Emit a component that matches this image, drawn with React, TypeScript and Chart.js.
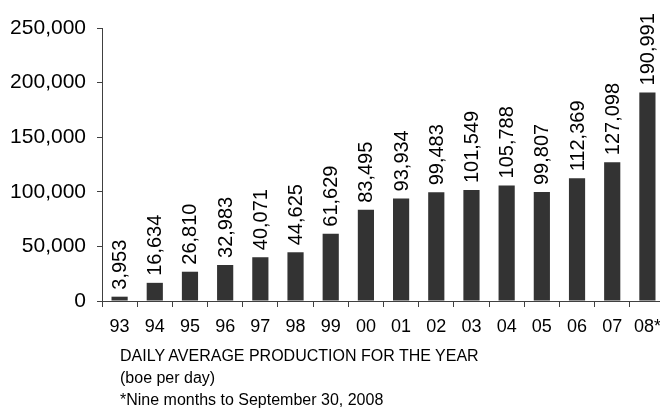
import React, { useEffect, useRef } from "react";
import { Chart, registerables } from "chart.js";

Chart.register(...registerables);

const categories = ["93", "94", "95", "96", "97", "98", "99", "00", "01", "02", "03", "04", "05", "06", "07", "08*"];
const production = [3953, 16634, 26810, 32983, 40071, 44625, 61629, 83495, 93934, 99483, 101549, 105788, 99807, 112369, 127098, 190991];
const yMax = 250000;
const yStep = 50000;
const notes = [
  "DAILY AVERAGE PRODUCTION FOR THE YEAR",
  "(boe per day)",
  "*Nine months to September 30, 2008",
];

const FONT = "'Liberation Sans', Arial, Helvetica, sans-serif";
const fmt = (v: number) => v.toLocaleString("en-US");

const valueLabels = {
  id: "valueLabels",
  afterDatasetsDraw(chart: any) {
    const ctx = chart.ctx;
    const meta = chart.getDatasetMeta(0);
    ctx.save();
    ctx.font = `20px ${FONT}`;
    ctx.fillStyle = "#000";
    ctx.textAlign = "left";
    ctx.textBaseline = "middle";
    meta.data.forEach((bar: any, i: number) => {
      ctx.save();
      ctx.translate(bar.x, bar.y - 7);
      ctx.rotate(-Math.PI / 2);
      ctx.fillText(fmt(production[i]), 0, 1);
      ctx.restore();
    });
    ctx.restore();
  },
};

export default function App() {
  const ref = useRef<HTMLCanvasElement | null>(null);
  useEffect(() => {
    document.body.style.margin = "0";
    document.body.style.overflow = "hidden";
    const chart = new Chart(ref.current!, {
      type: "bar",
      data: {
        labels: categories,
        datasets: [
          {
            data: production,
            backgroundColor: "#333333",
            borderWidth: 0,
            barPercentage: 0.46,
            categoryPercentage: 1,
          },
        ],
      },
      options: {
        animation: false,
        responsive: false,
        devicePixelRatio: 1,
        layout: { padding: { top: 28, right: 15, left: 0, bottom: 0 } },
        plugins: { legend: { display: false }, tooltip: { enabled: false } },
        scales: {
          x: {
            grid: {
              display: true,
              drawOnChartArea: false,
              drawTicks: true,
              tickLength: 6,
              color: "#404040",
              offset: true,
            },
            border: { display: true, color: "#404040", width: 1 },
            ticks: {
              color: "#000",
              font: { family: FONT, size: 18 },
              padding: 9,
              maxRotation: 0,
              autoSkip: false,
            },
            afterFit: (s: any) => {
              s.height = 109;
            },
          },
          y: {
            min: 0,
            max: yMax,
            grid: {
              display: true,
              drawOnChartArea: false,
              drawTicks: true,
              tickLength: 5,
              color: "#404040",
            },
            border: { display: true, color: "#404040", width: 1 },
            ticks: {
              stepSize: yStep,
              color: "#000",
              font: { family: FONT, size: 21 },
              padding: 11,
              callback: (v: any) => fmt(Number(v)),
            },
            afterFit: (s: any) => {
              s.width = 102;
            },
          },
        },
      },
      plugins: [valueLabels],
    });
    return () => chart.destroy();
  }, []);

  return (
    <div style={{ position: "relative", width: 660, height: 410, overflow: "hidden", background: "#fff" }}>
      <canvas ref={ref} width={680} height={410} style={{ position: "absolute", left: 0, top: 0 }} />
      {notes.map((t, i) => (
        <div
          key={i}
          style={{
            position: "absolute",
            left: 120,
            top: 345 + i * 22,
            lineHeight: "22px",
            fontFamily: FONT,
            fontSize: 16,
            color: "#000",
            whiteSpace: "nowrap",
          }}
        >
          {t}
        </div>
      ))}
    </div>
  );
}
